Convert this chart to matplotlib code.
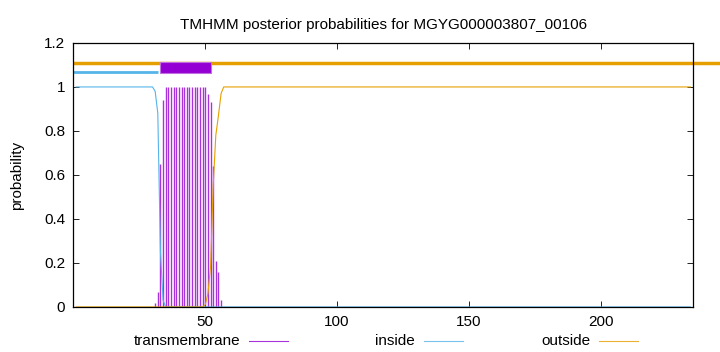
import matplotlib
matplotlib.use("Agg")
import matplotlib.pyplot as plt
from matplotlib.lines import Line2D
from matplotlib.patches import Rectangle

plt.rcParams['font.family'] = ['Liberation Sans', 'DejaVu Sans']
plt.rcParams['font.size'] = 11

seq_len = 234

# transmembrane posterior (impulses)
tm_pos = [31, 32, 33, 34, 35, 36, 37, 38, 39, 40, 41, 42, 43,
          44, 45, 46, 47, 48, 49, 50, 51, 52, 53, 54, 55, 56]
tm_prob = [0.02, 0.07, 0.65, 0.94, 1.0, 1.0, 1.0, 1.0, 1.0, 1.0, 1.0, 1.0, 1.0,
           1.0, 1.0, 1.0, 1.0, 1.0, 1.0, 1.0, 0.97, 0.93, 0.64, 0.21, 0.16, 0.03]

# inside / outside curves (vertices)
inside_pos = [1, 30, 31, 32, 33, 34, 35, 234]
inside_prob = [1.0, 1.0, 0.98, 0.88, 0.25, 0.03, 0.0, 0.0]
outside_pos = [1, 49, 50, 51, 52, 53, 54, 55, 56, 57, 234]
outside_prob = [0.0, 0.0, 0.01, 0.06, 0.18, 0.55, 0.78, 0.87, 0.97, 1.0, 1.0]

# predicted topology segments
inside_seg = (0, 32)
tm_seg = (33, 52.3)
outside_seg = (0, 250)

c_tm = '#9400d3'
c_in = '#56b4e9'
c_out = '#e69f00'

fig = plt.figure(figsize=(7.2, 3.52), dpi=100)
ax = fig.add_axes([0.102, 0.128, 0.8605, 0.75])

ax.vlines(tm_pos, 0, tm_prob, color=c_tm, lw=1.0, alpha=0.8)
ax.plot(inside_pos, inside_prob, color=c_in, lw=0.8)
ax.plot(outside_pos, outside_prob, color=c_out, lw=0.8)

# topology bars above the curves
ax.plot(outside_seg, [1.109, 1.109], color=c_out, lw=2.5, clip_on=False,
        solid_capstyle='butt')
ax.plot(inside_seg, [1.066, 1.066], color=c_in, lw=2.0, solid_capstyle='butt')
ax.add_patch(Rectangle((tm_seg[0], 1.064), tm_seg[1] - tm_seg[0], 0.05,
                       facecolor=c_tm, edgecolor='#c070e0', lw=0.8, zorder=3))

ax.set_xlim(0, 235)
ax.set_ylim(0, 1.2)
ax.set_xticks([50, 100, 150, 200])
ax.set_yticks([0, 0.2, 0.4, 0.6, 0.8, 1.0, 1.2])
ax.set_yticklabels(['0', '0.2', '0.4', '0.6', '0.8', '1', '1.2'])
ax.tick_params(direction='in', length=4, width=0.6, top=True, right=True,
               labelsize=11, pad=6)
for s in ax.spines.values():
    s.set_linewidth(0.9)

ax.set_ylabel('probability', fontsize=11, labelpad=14)
ax.set_title('TMHMM posterior probabilities for MGYG000003807_00106',
             fontsize=11, pad=10)

# legend row under the axis
labels = ['transmembrane', 'inside', 'outside']
colors = [c_tm, c_in, c_out]
text_right = [240, 415, 590]
ly = 1 - 341 / 352
for lab, col, xr in zip(labels, colors, text_right):
    fig.text(xr / 720, ly, lab, ha='right', va='center', fontsize=11)
    fig.add_artist(Line2D([(xr + 9) / 720, (xr + 48) / 720], [ly, ly],
                          color=col, lw=0.8, alpha=0.8,
                          transform=fig.transFigure))

fig.savefig('out.png', dpi=100)
